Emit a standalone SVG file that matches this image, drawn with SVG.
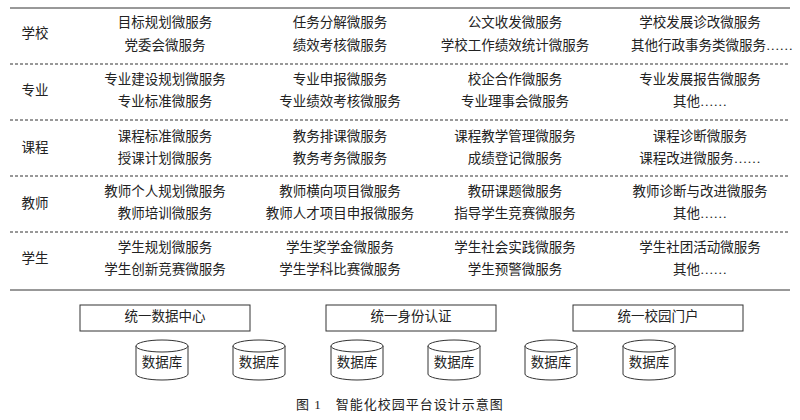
<svg xmlns="http://www.w3.org/2000/svg" width="800" height="420" viewBox="0 0 800 420">
<style>
text{font-family:"Liberation Serif","Noto Sans CJK SC",serif;font-size:13.5px;fill:#222;text-anchor:middle;dominant-baseline:middle}
.l{stroke:#333;fill:none}
.d{stroke:#333;stroke-dasharray:3,2;fill:none}
.b{fill:#fff;stroke:#333}
</style>
<rect width="800" height="420" fill="#fff"/>
<g id="grid">
<line class="l" x1="10" y1="8" x2="790" y2="8"/>
<line class="d" x1="10" y1="64" x2="790" y2="64"/>
<line class="d" x1="10" y1="120" x2="790" y2="120"/>
<line class="d" x1="10" y1="176" x2="790" y2="176"/>
<line class="d" x1="10" y1="232" x2="790" y2="232"/>
<line class="l" x1="10" y1="290" x2="790" y2="290"/>
</g>
<g id="row-school">
<text x="35" y="35">学校</text>
<text x="165" y="24">目标规划微服务</text><text x="165" y="47">党委会微服务</text>
<text x="340" y="24">任务分解微服务</text><text x="340" y="47">绩效考核微服务</text>
<text x="515" y="24">公文收发微服务</text><text x="515" y="47">学校工作绩效统计微服务</text>
<text x="700" y="24">学校发展诊改微服务</text><text x="712" y="47">其他行政事务类微服务……</text>
</g>
<g id="row-major">
<text x="35" y="92">专业</text>
<text x="165" y="81">专业建设规划微服务</text><text x="165" y="103">专业标准微服务</text>
<text x="340" y="81">专业申报微服务</text><text x="340" y="103">专业绩效考核微服务</text>
<text x="515" y="81">校企合作微服务</text><text x="515" y="103">专业理事会微服务</text>
<text x="700" y="81">专业发展报告微服务</text><text x="700" y="103">其他……</text>
</g>
<g id="row-course">
<text x="35" y="149">课程</text>
<text x="165" y="138">课程标准微服务</text><text x="165" y="160">授课计划微服务</text>
<text x="340" y="138">教务排课微服务</text><text x="340" y="160">教务考务微服务</text>
<text x="515" y="138">课程教学管理微服务</text><text x="515" y="160">成绩登记微服务</text>
<text x="700" y="138">课程诊断微服务</text><text x="700" y="160">课程改进微服务……</text>
</g>
<g id="row-teacher">
<text x="35" y="205">教师</text>
<text x="165" y="193">教师个人规划微服务</text><text x="165" y="215">教师培训微服务</text>
<text x="340" y="193">教师横向项目微服务</text><text x="340" y="215">教师人才项目申报微服务</text>
<text x="515" y="193">教研课题微服务</text><text x="515" y="215">指导学生竞赛微服务</text>
<text x="700" y="193">教师诊断与改进微服务</text><text x="700" y="215">其他……</text>
</g>
<g id="row-student">
<text x="35" y="260">学生</text>
<text x="165" y="249">学生规划微服务</text><text x="165" y="271">学生创新竞赛微服务</text>
<text x="340" y="249">学生奖学金微服务</text><text x="340" y="271">学生学科比赛微服务</text>
<text x="515" y="249">学生社会实践微服务</text><text x="515" y="271">学生预警微服务</text>
<text x="700" y="249">学生社团活动微服务</text><text x="700" y="271">其他……</text>
</g>
<g id="data-center"><rect class="b" x="80" y="305" width="170" height="26"/><text x="165" y="318">统一数据中心</text></g>
<g id="auth"><rect class="b" x="326" y="305" width="170" height="26"/><text x="411" y="318">统一身份认证</text></g>
<g id="portal"><rect class="b" x="573" y="305" width="170" height="26"/><text x="658" y="318">统一校园门户</text></g>
<defs>
<g id="cyl">
<path class="b" d="M-26,-14 L-26,14 A26,6 0 0 0 26,14 L26,-14"/>
<ellipse class="b" cx="0" cy="-14" rx="26" ry="6"/>
<text x="0" y="4">数据库</text>
</g>
</defs>
<g id="db1"><use href="#cyl" x="162" y="360"/></g>
<g id="db2"><use href="#cyl" x="259" y="360"/></g>
<g id="db3"><use href="#cyl" x="357" y="360"/></g>
<g id="db4"><use href="#cyl" x="454" y="360"/></g>
<g id="db5"><use href="#cyl" x="551" y="360"/></g>
<g id="db6"><use href="#cyl" x="649" y="360"/></g>
<text x="400" y="406" style="font-size:13px;letter-spacing:1px">图 1　智能化校园平台设计示意图</text>
</svg>
